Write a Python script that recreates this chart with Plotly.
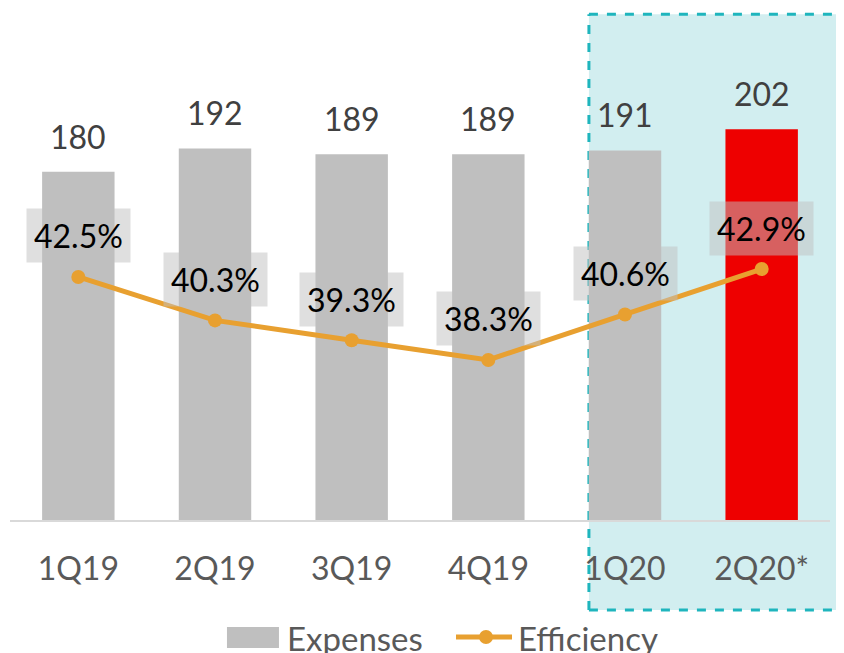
import plotly.graph_objects as go

quarters = ["1Q19", "2Q19", "3Q19", "4Q19", "1Q20", "2Q20*"]
expenses = [180, 192, 189, 189, 191, 202]
efficiency = [42.5, 40.3, 39.3, 38.3, 40.6, 42.9]
bar_colors = ["#bfbfbf", "#bfbfbf", "#bfbfbf", "#bfbfbf", "#bfbfbf", "#ee0000"]

FONT = "Lato"
ORANGE = "#e8a030"
TEAL = "#1fb5bd"

fig = go.Figure()

fig.add_trace(
    go.Bar(
        x=quarters,
        y=expenses,
        name="Expenses",
        marker_color=bar_colors,
        marker_line_width=0,
        showlegend=False,
    )
)
fig.add_trace(
    go.Scatter(
        x=quarters,
        y=efficiency,
        name="Efficiency",
        mode="lines+markers",
        line=dict(color=ORANGE, width=5),
        marker=dict(color=ORANGE, size=14),
        yaxis="y2",
        showlegend=False,
    )
)

annotations = []
# bar values
for q, v in zip(quarters, expenses):
    annotations.append(
        dict(
            x=q, y=v, xref="x", yref="y", text=str(v), showarrow=False,
            yanchor="bottom", yshift=14,
            font=dict(family=FONT, size=32, color="#404040"),
        )
    )
# efficiency labels
for q, v in zip(quarters, efficiency):
    annotations.append(
        dict(
            x=q, y=v, xref="x", yref="y2", text=f"{v:.1f}%", showarrow=False,
            yanchor="middle", yshift=41,
            bgcolor="rgba(191,191,191,0.5)", borderpad=7,
            font=dict(family=FONT, size=32, color="#000000"),
        )
    )

# legend drawn by hand (page has an 8px body offset)
annotations.append(
    dict(x=0.3354, y=-0.2305, xref="paper", yref="paper", text="Expenses",
         showarrow=False, xanchor="left", yanchor="middle",
         font=dict(family=FONT, size=33, color="#595959"))
)
annotations.append(
    dict(x=0.617, y=-0.2305, xref="paper", yref="paper", text="Efficiency",
         showarrow=False, xanchor="left", yanchor="middle",
         font=dict(family=FONT, size=33, color="#595959"))
)

hx0, hx1, hy0, hy1 = 0.706, 1.03, -0.176, 0.988
dash_line = dict(color=TEAL, width=3, dash="dash")
shapes = [
    # highlight box for 2020, open on the right like the original
    dict(type="rect", xref="paper", yref="paper", x0=hx0, x1=hx1, y0=hy0, y1=hy1,
         fillcolor="#d2eef0", line_width=0, layer="below"),
    dict(type="line", xref="paper", yref="paper", x0=hx0, x1=hx1, y0=hy1, y1=hy1,
         line=dash_line, layer="below"),
    dict(type="line", xref="paper", yref="paper", x0=hx0, x1=hx1, y0=hy0, y1=hy0,
         line=dash_line, layer="below"),
    dict(type="line", xref="paper", yref="paper", x0=hx0, x1=hx0, y0=hy0, y1=hy1,
         line=dash_line, layer="below"),
    # legend marks
    dict(type="rect", xref="paper", yref="paper", x0=0.2646, x1=0.328, y0=-0.25, y1=-0.209,
         fillcolor="#bfbfbf", line_width=0),
    dict(type="line", xref="paper", yref="paper", x0=0.5439, x1=0.6122, y0=-0.2285, y1=-0.2285,
         line=dict(color=ORANGE, width=5)),
    dict(type="circle", xref="paper", yref="paper", x0=0.572, x1=0.589, y0=-0.2422, y1=-0.2148,
         fillcolor=ORANGE, line_width=0),
]

fig.update_layout(
    width=836,
    height=645,
    margin=dict(l=2, r=14, t=0, b=133),
    paper_bgcolor="white",
    plot_bgcolor="rgba(0,0,0,0)",
    bargap=0.47,
    annotations=annotations,
    shapes=shapes,
    showlegend=False,
    xaxis=dict(
        showgrid=False, showline=True, linecolor="#d9d9d9", linewidth=2,
        ticks="outside", ticklen=20, tickcolor="rgba(0,0,0,0)",
        tickfont=dict(family=FONT, size=32, color="#595959"),
    ),
    yaxis=dict(range=[0, 264.6], visible=False),
    yaxis2=dict(range=[30.2, 56.11], visible=False, overlaying="y"),
)

fig.write_html("out.html")
